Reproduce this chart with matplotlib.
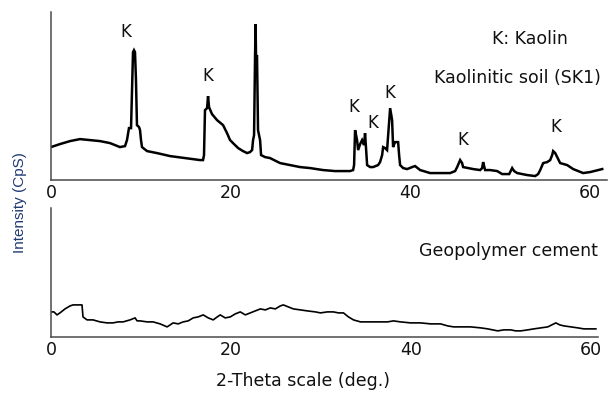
import matplotlib.pyplot as plt
import numpy as np

plt.rcParams['font.family'] = ['DejaVu Sans']

# ----- данные (2θ, интенсивность в усл. ед.) -----
soil_theta = [0.00, 1.00, 2.12, 3.23, 4.34, 5.45, 6.57, 7.68, 8.24, 8.46,
              8.68, 8.91, 9.02, 9.13, 9.24, 9.35, 9.46, 9.57, 9.80, 9.91,
              10.02, 10.13, 10.69, 11.80, 13.25, 14.92, 16.59, 16.92, 17.03, 17.14,
              17.37, 17.48, 17.59, 17.92, 18.48, 19.15, 19.59, 19.93, 20.37, 20.83,
              21.37, 21.82, 22.15, 22.38, 22.49, 22.60, 22.71, 22.77, 22.82, 22.93,
              23.04, 23.27, 23.38, 23.82, 24.38, 25.49, 26.61, 27.72, 28.83, 30.28,
              31.62, 33.28, 33.62, 33.73, 33.84, 34.06, 34.18, 34.40, 34.62, 34.84,
              34.95, 35.07, 35.18, 35.51, 35.85, 36.40, 36.62, 36.85, 36.96, 37.18,
              37.40, 37.52, 37.74, 37.96, 38.07, 38.29, 38.63, 38.74, 38.85, 39.19,
              39.63, 40.19, 40.52, 41.08, 42.19, 44.42, 44.97, 45.20, 45.53, 45.75,
              45.86, 46.42, 46.98, 47.76, 47.98, 48.09, 48.20, 48.31, 48.87, 49.65,
              50.21, 50.99, 51.21, 51.32, 51.54, 51.88, 52.99, 53.88, 54.21, 54.44,
              54.77, 55.22, 55.55, 55.77, 55.88, 56.11, 56.33, 56.66, 57.44, 58.11,
              59.22, 60.00, 61.34]
soil_int = [33, 36, 39, 41, 40, 39, 37, 33, 34, 40,
            52, 52, 90, 128, 130, 128, 100, 55, 53, 50,
            40, 33, 29, 27, 24, 22, 20, 20, 25, 70,
            72, 84, 73, 66, 60, 55, 47, 40, 36, 32,
            29, 27, 28, 30, 40, 45, 124, 156, 124, 124,
            50, 40, 25, 23, 22, 17, 15, 13, 12, 10,
            9, 9, 10, 15, 50, 40, 30, 36, 40, 35,
            47, 30, 15, 13, 13, 15, 18, 25, 33, 32,
            30, 45, 72, 60, 33, 38, 38, 25, 15, 12,
            11, 13, 14, 10, 7, 7, 9, 13, 20, 17,
            13, 12, 11, 10, 12, 18, 14, 10, 10, 9,
            6, 6, 10, 12, 9, 7, 5, 4, 6, 10,
            17, 18, 20, 25, 29, 27, 23, 17, 15, 11,
            7, 8, 11]

geo_theta = [0.11, 0.33, 0.67, 1.00, 1.56, 2.12, 2.45, 3.01, 3.45, 3.56,
             4.01, 4.68, 5.45, 6.23, 6.90, 7.46, 8.02, 8.79, 9.35, 9.57,
             9.91, 10.69, 11.35, 12.13, 12.91, 13.25, 13.58, 14.14, 14.69, 15.25,
             15.81, 16.36, 16.92, 17.48, 18.03, 18.48, 18.81, 19.37, 19.93, 20.48,
             21.04, 21.60, 22.15, 22.71, 23.27, 23.82, 24.38, 24.94, 25.49, 25.83,
             26.38, 26.94, 27.72, 28.50, 29.39, 29.95, 30.72, 31.39, 31.95, 32.51,
             33.06, 33.62, 34.40, 35.51, 36.62, 37.40, 38.07, 38.85, 39.96, 41.08,
             42.19, 43.30, 44.08, 44.75, 45.53, 46.64, 47.76, 48.54, 49.09, 49.65,
             50.32, 51.10, 51.65, 52.21, 52.99, 53.66, 54.44, 55.22, 55.66, 56.11,
             56.55, 57.00, 57.78, 58.56, 59.22, 60.00, 60.56]
geo_int = [25, 25, 22, 24, 28, 31, 32, 32, 32, 20,
           17, 17, 15, 14, 14, 15, 15, 17, 19, 16,
           16, 15, 15, 13, 10, 12, 14, 13, 15, 16,
           19, 20, 22, 19, 17, 20, 22, 19, 20, 23,
           25, 22, 24, 26, 28, 27, 29, 28, 31, 32,
           30, 28, 27, 26, 25, 24, 25, 25, 24, 24,
           20, 17, 15, 15, 15, 15, 16, 15, 14, 14,
           13, 13, 11, 10, 10, 10, 9, 8, 7, 6,
           7, 7, 6, 6, 7, 8, 9, 10, 12, 14,
           12, 11, 10, 9, 8, 8, 8]

# подписи пиков каолина
k_theta = [8.3, 17.5, 33.7, 35.8, 37.7, 45.8, 56.2]
k_int = [148, 104, 73, 57, 87, 40, 53]

tick_values = [0, 20, 40, 60]
text_color = '#111111'
spine_color = '#4a4a4a'

fig = plt.figure(figsize=(6.14, 3.94), dpi=100)
ax1 = fig.add_axes([0.083, 0.543, 0.906, 0.426])
ax2 = fig.add_axes([0.083, 0.145, 0.891, 0.327])

ax1.plot(soil_theta, soil_int, color='black', lw=1.8, solid_joinstyle='miter')
ax2.plot(geo_theta, geo_int, color='black', lw=1.2)

for ax, xmax, ymax in [(ax1, 61.9, 168), (ax2, 60.8, 129)]:
    ax.set_xlim(0, xmax)
    ax.set_ylim(0, ymax)
    ax.set_xticks(tick_values)
    ax.set_yticks([])
    ax.tick_params(axis='x', length=0, pad=3, labelsize=12.5, labelcolor=text_color)
    for side in ['top', 'right']:
        ax.spines[side].set_visible(False)
    for side in ['left', 'bottom']:
        ax.spines[side].set_color(spine_color)
        ax.spines[side].set_linewidth(1.1)

for x, y in zip(k_theta, k_int):
    ax1.text(x, y, 'K', ha='center', va='center', fontsize=12, color=text_color)

ax1.text(0.93, 0.84, 'K: Kaolin', transform=ax1.transAxes, ha='right', va='center',
         fontsize=12.5, color=text_color)
ax1.text(0.989, 0.61, 'Kaolinitic soil (SK1)', transform=ax1.transAxes, ha='right', va='center',
         fontsize=12.5, color=text_color)
ax2.text(1.0, 0.67, 'Geopolymer cement', transform=ax2.transAxes, ha='right', va='center',
         fontsize=12.5, color=text_color)

fig.text(303 / 614, 1 - 381 / 394, '2-Theta scale (deg.)', ha='center', va='center',
         fontsize=12.5, color=text_color)
fig.text(20 / 614, 1 - 203 / 394, 'Intensity (CpS)', ha='center', va='center',
         rotation=90, fontsize=11, color='#1f3a73', family=['Liberation Sans', 'DejaVu Sans'])

fig.savefig('out.png', dpi=100)
